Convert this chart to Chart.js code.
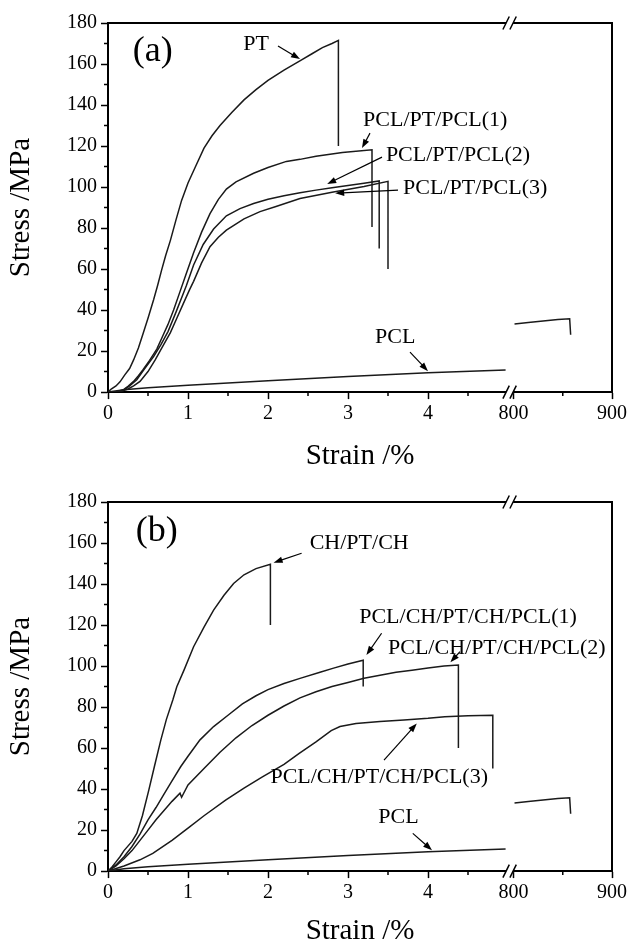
<!DOCTYPE html>
<html lang="en">
<head>
<meta charset="UTF-8">
<title>Stress-strain curves</title>
<script src="https://cdn.jsdelivr.net/npm/chart.js"></script>
<style>
  body { margin: 0; background: #fff; }
  .panel { position: absolute; left: 0; }
  #wrapA { top: 0; }
  #wrapB { top: 475px; }
</style>
</head>
<body>
<div class="panel" id="wrapA"><canvas id="chartA" width="630" height="475"></canvas></div>
<div class="panel" id="wrapB"><canvas id="chartB" width="630" height="472"></canvas></div>
<script>
// axis ticks
const xTicksLeft = [0, 1, 2, 3, 4];
const xTicksRight = [800, 900];
const yTicks = [0, 20, 40, 60, 80, 100, 120, 140, 160, 180];
const xMinorLeft = [0.5, 1.5, 2.5, 3.5, 4.5];
const xMinorRight = [850];
const yMinor = [10, 30, 50, 70, 90, 110, 130, 150, 170];

// panel (a) - strain %, stress MPa
const ptStrain = [0, 0.04, 0.1, 0.15, 0.21, 0.27, 0.32, 0.38, 0.44, 0.5, 0.57, 0.62, 0.67, 0.72, 0.78, 0.85, 0.92, 1.0, 1.1, 1.2, 1.3, 1.4, 1.55, 1.7, 1.85, 2.0, 2.2, 2.42, 2.55, 2.68, 2.8, 2.88, 2.88];
const ptStress = [0, 1.5, 3, 5, 8.4, 11.5, 15.7, 21.5, 28.7, 36, 45, 52, 59.5, 66.5, 74, 84, 93.5, 102, 110.5, 119, 125, 130, 136.5, 142.5, 147.5, 152, 157, 162, 165, 168, 170, 171.5, 120];

const ppp1Strain = [0, 0.12, 0.19, 0.25, 0.32, 0.38, 0.44, 0.52, 0.61, 0.68, 0.75, 0.82, 0.9, 0.98, 1.07, 1.17, 1.275, 1.38, 1.48, 1.6, 1.82, 2.0, 2.23, 2.4, 2.6, 2.93, 3.3, 3.3];
const ppp1Stress = [0, 0.3, 1.1, 2.8, 5.2, 8, 11, 15.5, 21, 27, 33, 40, 49, 58, 68, 78, 87, 94, 99, 102.5, 106.7, 109.5, 112.5, 113.5, 115, 116.8, 118.2, 80.5];

const ppp2Strain = [0, 0.12, 0.19, 0.27, 0.36, 0.45, 0.57, 0.66, 0.75, 0.85, 0.94, 0.98, 1.07, 1.19, 1.32, 1.48, 1.65, 1.82, 2.0, 2.2, 2.4, 2.6, 2.8, 3.0, 3.2, 3.39, 3.39];
const ppp2Stress = [0, 0.2, 0.8, 3, 6, 11, 17.3, 23, 29.5, 39, 48, 52, 62, 72, 79.5, 86, 89.5, 92, 94, 95.8, 97.2, 98.5, 99.7, 100.8, 101.9, 103, 70];

const ppp3Strain = [0, 0.15, 0.25, 0.32, 0.4, 0.5, 0.59, 0.68, 0.78, 0.86, 0.94, 1.02, 1.07, 1.17, 1.275, 1.38, 1.48, 1.7, 1.9, 2.1, 2.4, 2.8, 3.2, 3.5, 3.5];
const ppp3Stress = [0, 0.2, 1.5, 3, 5.2, 10, 15.7, 22, 29, 36, 43, 50, 54, 63, 70.9, 75.5, 79, 84.5, 88, 90.5, 94.4, 97.5, 100.3, 102.8, 60];

// PCL, same film in both panels (two segments of the broken axis)
const pclStrain = [0, 0.2, 0.5, 1, 2, 3, 4, 4.97];
const pclStress = [0, 1.2, 2.1, 3.3, 5.5, 7.6, 9.4, 10.8];
const pclStrainHigh = [801, 815, 830, 845, 857, 858];
const pclStressHigh = [33.2, 33.9, 34.7, 35.4, 35.8, 28];

// panel (b)
const chStrain = [0, 0.05, 0.1, 0.15, 0.2, 0.3, 0.36, 0.43, 0.51, 0.58, 0.66, 0.73, 0.81, 0.86, 0.95, 1.07, 1.2, 1.32, 1.45, 1.57, 1.7, 1.85, 2.03, 2.03];
const chStress = [0, 2, 4.5, 7, 10, 14.5, 18.4, 27, 39.5, 51, 63.9, 74, 83.4, 89.9, 98, 109.4, 119, 127.3, 134.5, 140.3, 144.5, 147.5, 149.6, 120];

const pc1Strain = [0, 0.1, 0.2, 0.3, 0.4, 0.5, 0.6, 0.7, 0.8, 0.91, 1.0, 1.15, 1.32, 1.5, 1.68, 1.85, 2.0, 2.2, 2.4, 2.65, 2.82, 3.0, 3.19, 3.19];
const pc1Stress = [0, 3, 7, 12, 18, 25, 31, 37.5, 44, 51, 56, 64, 70.5, 76, 81.5, 85.5, 88.5, 91.5, 94, 97, 99, 101, 102.8, 90];

const pc2Strain = [0, 0.1, 0.2, 0.3, 0.4, 0.5, 0.6, 0.7, 0.8, 0.9, 0.92, 1.0, 1.2, 1.4, 1.6, 1.8, 2.0, 2.2, 2.4, 2.6, 2.8, 3.0, 3.2, 3.4, 3.6, 3.8, 4.0, 4.2, 4.38, 4.38];
const pc2Stress = [0, 2.5, 6, 10, 15, 20, 25, 29.5, 34, 38, 36, 42, 50, 58, 65, 71, 76, 80.5, 84.5, 87.5, 90, 92, 94, 95.5, 97, 98, 99, 100, 100.5, 60];

const pc3Strain = [0, 0.2, 0.4, 0.56, 0.8, 1.0, 1.2, 1.47, 1.7, 1.93, 2.2, 2.39, 2.6, 2.79, 2.9, 3.1, 3.4, 3.7, 4.0, 4.21, 4.5, 4.81, 4.81];
const pc3Stress = [0, 2.5, 5.5, 8.6, 15, 21, 27, 34.6, 40.5, 46, 52, 57.4, 63, 68.5, 70.5, 72, 73, 73.7, 74.5, 75.3, 75.8, 76, 50];

const SERIF = '"Liberation Serif", "Times New Roman", serif';

// labels and arrows, in data units of the left strain axis
const notesA = {
  labels: [
    { text: '(a)', x: 0.56, y: 166, size: 36 },
    { text: 'PT', x: 1.85, y: 169.8 },
    { text: 'PCL/PT/PCL(1)', x: 4.09, y: 132.7 },
    { text: 'PCL/PT/PCL(2)', x: 4.375, y: 115.6 },
    { text: 'PCL/PT/PCL(3)', x: 4.59, y: 99.5 },
    { text: 'PCL', x: 3.59, y: 26.8 }
  ],
  arrows: [
    [2.125, 168.8, 2.4, 162.4],
    [3.275, 126.3, 3.175, 119],
    [3.425, 114.6, 2.74, 101.5],
    [3.625, 98.5, 2.84, 97],
    [3.775, 19.5, 4.0, 10.2]
  ]
};
const notesB = {
  labels: [
    { text: '(b)', x: 0.61, y: 165.4, size: 36 },
    { text: 'CH/PT/CH', x: 3.14, y: 159.8 },
    { text: 'PCL/CH/PT/CH/PCL(1)', x: 4.5, y: 123.7 },
    { text: 'PCL/CH/PT/CH/PCL(2)', x: 4.86, y: 108.8 },
    { text: 'PCL/CH/PT/CH/PCL(3)', x: 3.39, y: 46 },
    { text: 'PCL', x: 3.63, y: 26.2 }
  ],
  arrows: [
    [2.42, 155, 2.07, 150.4],
    [3.42, 116, 3.23, 105.4],
    [4.4, 107, 4.28, 101.8],
    [3.45, 54.1, 3.86, 72],
    [3.81, 18.4, 4.05, 10.2]
  ]
};

const pts = (xs, ys) => xs.map((x, i) => ({ x: x, y: ys[i] }));
const curve = (xs, ys, axis) => ({
  data: pts(xs, ys),
  xAxisID: axis || 'x',
  showLine: true,
  borderColor: '#1a1a1a',
  borderWidth: 1.5,
  pointRadius: 0,
  tension: 0
});

function drawArrow(ctx, x1, y1, x2, y2) {
  const a = Math.atan2(y2 - y1, x2 - x1);
  const len = 9, hw = 3.2;
  ctx.beginPath();
  ctx.moveTo(x1, y1);
  ctx.lineTo(x2 - Math.cos(a) * len * 0.8, y2 - Math.sin(a) * len * 0.8);
  ctx.stroke();
  ctx.beginPath();
  ctx.moveTo(x2, y2);
  ctx.lineTo(x2 - len * Math.cos(a) + hw * Math.sin(a), y2 - len * Math.sin(a) - hw * Math.cos(a));
  ctx.lineTo(x2 - len * Math.cos(a) - hw * Math.sin(a), y2 - len * Math.sin(a) + hw * Math.cos(a));
  ctx.closePath();
  ctx.fill();
}

// frame, minor ticks, axis break and the labels
const decor = {
  id: 'decor',
  afterDraw(chart, args, opts) {
    const { ctx, chartArea: a, scales } = chart;
    const X = v => scales.x.getPixelForValue(v);
    const X2 = v => scales.x2.getPixelForValue(v);
    const Y = v => scales.y.getPixelForValue(v);
    ctx.save();
    ctx.strokeStyle = '#000';
    ctx.fillStyle = '#000';

    ctx.lineWidth = 1.5;
    ctx.beginPath();
    xMinorLeft.forEach(v => { ctx.moveTo(X(v), a.bottom); ctx.lineTo(X(v), a.bottom + 4); });
    xMinorRight.forEach(v => { ctx.moveTo(X2(v), a.bottom); ctx.lineTo(X2(v), a.bottom + 4); });
    yMinor.forEach(v => { ctx.moveTo(a.left, Y(v)); ctx.lineTo(a.left - 4, Y(v)); });
    ctx.stroke();

    ctx.lineWidth = 2;
    ctx.beginPath();
    ctx.moveTo(a.left, a.top);
    ctx.lineTo(a.right, a.top);
    ctx.lineTo(a.right, a.bottom);
    ctx.stroke();

    // axis break "//"
    const bx = scales.x.right;
    ctx.lineWidth = 1.5;
    [a.top, a.bottom].forEach(y => {
      ctx.fillStyle = '#fff';
      ctx.fillRect(bx - 3.5, y - 2, 7, 4);
      ctx.beginPath();
      [-3.5, 3.5].forEach(dx => {
        ctx.moveTo(bx + dx - 3.2, y + 6.5);
        ctx.lineTo(bx + dx + 3.2, y - 6.5);
      });
      ctx.stroke();
    });

    ctx.fillStyle = '#000';
    ctx.textAlign = 'center';
    ctx.textBaseline = 'middle';
    opts.labels.forEach(l => {
      ctx.font = (l.size || 22) + 'px ' + SERIF;
      ctx.fillText(l.text, X(l.x), Y(l.y));
    });
    ctx.lineWidth = 1.2;
    opts.arrows.forEach(r => drawArrow(ctx, X(r[0]), Y(r[1]), X(r[2]), Y(r[3])));
    ctx.restore();
  }
};

const tickFont = { family: SERIF, size: 20 };
const grid = { drawOnChartArea: false, tickLength: 7, tickWidth: 1.5, tickColor: '#000' };
const border = { color: '#000', width: 2 };

function makeChart(id, datasets, notes, pad, titleGap) {
  return new Chart(document.getElementById(id), {
    type: 'scatter',
    data: { datasets: datasets },
    options: {
      responsive: false,
      animation: false,
      devicePixelRatio: 1,
      layout: { padding: { top: pad.top, right: 18, left: 0, bottom: pad.bottom } },
      plugins: {
        legend: { display: false },
        tooltip: { enabled: false },
        title: {
          display: true, position: 'bottom', fullSize: false,
          text: 'Strain /%', color: '#000',
          font: { family: SERIF, size: 29, weight: 'normal', lineHeight: 1.1 },
          padding: { top: titleGap, bottom: 0 }
        },
        decor: notes
      },
      scales: {
        x: {
          type: 'linear', position: 'bottom', stack: 'strain', stackWeight: 401.6,
          min: 0, max: 5.02,
          afterBuildTicks: s => { s.ticks = xTicksLeft.map(v => ({ value: v })); },
          afterFit: s => { s.height = 38; },
          ticks: { font: tickFont, color: '#000', padding: 3, maxRotation: 0, autoSkip: false },
          grid: grid, border: border
        },
        x2: {
          type: 'linear', axis: 'x', position: 'bottom', stack: 'strain', stackWeight: 102.4,
          min: 796, max: 900,
          afterBuildTicks: s => { s.ticks = xTicksRight.map(v => ({ value: v })); },
          afterFit: s => { s.height = 38; },
          ticks: { font: tickFont, color: '#000', padding: 3, maxRotation: 0, autoSkip: false },
          grid: grid, border: border
        },
        y: {
          type: 'linear', position: 'left', min: 0, max: 180,
          afterBuildTicks: s => { s.ticks = yTicks.map(v => ({ value: v })); },
          afterFit: s => { s.width = 108; },
          ticks: { font: tickFont, color: '#000', padding: 4, autoSkip: false },
          grid: grid, border: border,
          title: {
            display: true, text: 'Stress /MPa', color: '#000',
            font: { family: SERIF, size: 29, lineHeight: 1.1 },
            padding: { top: 5, bottom: 0 }
          }
        }
      }
    },
    plugins: [decor]
  });
}

makeChart('chartA', [
  curve(ptStrain, ptStress),
  curve(ppp1Strain, ppp1Stress),
  curve(ppp2Strain, ppp2Stress),
  curve(ppp3Strain, ppp3Stress),
  curve(pclStrain, pclStress),
  curve(pclStrainHigh, pclStressHigh, 'x2')
], notesA, { top: 23, bottom: 3 }, 10);

makeChart('chartB', [
  curve(chStrain, chStress),
  curve(pc1Strain, pc1Stress),
  curve(pc2Strain, pc2Stress),
  curve(pc3Strain, pc3Stress),
  curve(pclStrain, pclStress),
  curve(pclStrainHigh, pclStressHigh, 'x2')
], notesB, { top: 27, bottom: 0 }, 6);
</script>
</body>
</html>
